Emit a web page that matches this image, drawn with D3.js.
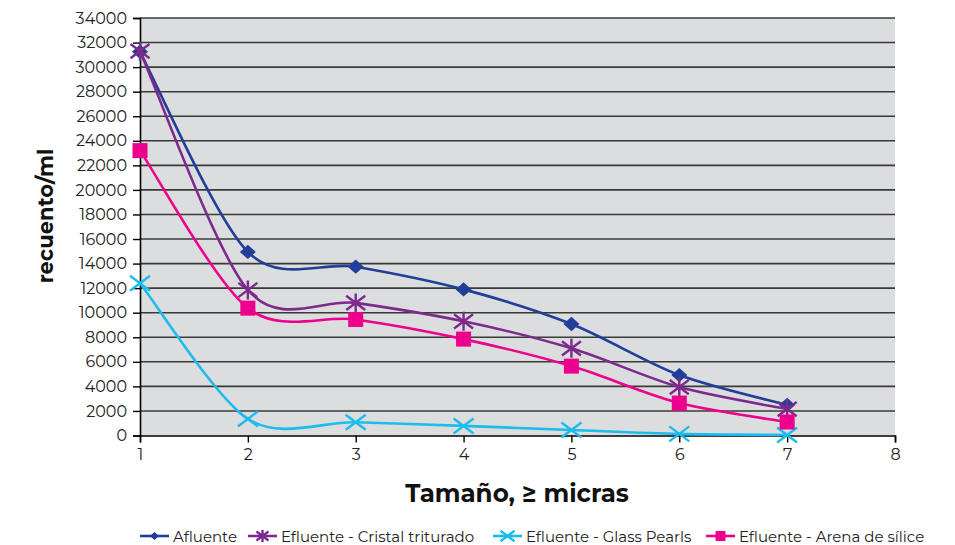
<!DOCTYPE html>
<html>
<head>
<meta charset="utf-8">
<script src="https://cdn.jsdelivr.net/npm/d3@7"></script>
<style>
  html, body { margin: 0; padding: 0; background: #fff; }
  svg { display: block; font-family: "Montserrat", "Lato", "Noto Sans", sans-serif; }
</style>
</head>
<body>
<svg id="chart" width="955" height="545"></svg>
<script>
// Particle size classes (microns) and particle counts per ml
const sizes = [1, 2, 3, 4, 5, 6, 7];
const afluente = [31250, 14950, 13750, 11900, 9080, 4920, 2480];
const cristalTriturado = [31300, 11850, 10800, 9300, 7100, 3940, 2150];
const glassPearls = [12400, 1350, 1080, 780, 450, 130, 40];
const arenaSilice = [23200, 10370, 9450, 7850, 5650, 2640, 1100];

const seriesNames = ["Afluente", "Efluente - Cristal triturado", "Efluente - Glass Pearls", "Efluente - Arena de sílice"];
const seriesColors = ["#213f99", "#7d2a8c", "#1cbdec", "#ec008c"];
const seriesMarkers = ["diamond", "star", "cross", "square"];
const xTicks = [1, 2, 3, 4, 5, 6, 7, 8];
const yTicks = d3.range(0, 34001, 2000);

const seriesValues = [afluente, cristalTriturado, glassPearls, arenaSilice];

const svg = d3.select("#chart");
const plot = { left: 140, right: 895, top: 18, bottom: 435.5 };

const x = d3.scaleLinear().domain([1, 8]).range([plot.left, plot.right]);
const y = d3.scaleLinear().domain([0, 34000]).range([plot.bottom, plot.top]);

// Plot background
svg.append("rect")
  .attr("x", plot.left).attr("y", plot.top)
  .attr("width", plot.right - plot.left).attr("height", plot.bottom - plot.top)
  .attr("fill", "#dcdddf");

// Horizontal gridlines
svg.append("g")
  .selectAll("line")
  .data(yTicks.filter(d => d > 0))
  .join("line")
  .attr("x1", plot.left).attr("x2", plot.right)
  .attr("y1", d => y(d)).attr("y2", d => y(d))
  .attr("stroke", "#3a3a3a").attr("stroke-width", 1.6);

// Y axis
const yAxis = svg.append("g")
  .attr("transform", `translate(${plot.left},0)`)
  .call(d3.axisLeft(y).tickValues(yTicks).tickSize(7).tickPadding(6).tickFormat(d3.format("d")));
yAxis.select(".domain").attr("stroke", "#000").attr("stroke-width", 1.6);
yAxis.selectAll(".tick line").attr("stroke", "#000").attr("stroke-width", 1.4);
yAxis.selectAll("text").attr("font-size", 16).attr("fill", "#222")
  .attr("font-family", "Montserrat, Lato, 'Noto Sans', sans-serif");

// X axis
const xAxis = svg.append("g")
  .attr("transform", `translate(0,${plot.bottom})`)
  .call(d3.axisBottom(x).tickValues(xTicks).tickSize(7).tickPadding(6).tickFormat(d3.format("d")));
xAxis.select(".domain").attr("stroke", "#000").attr("stroke-width", 1.6);
xAxis.selectAll(".tick line").attr("stroke", "#000").attr("stroke-width", 1.4);
xAxis.selectAll("text").attr("font-size", 16).attr("fill", "#222")
  .attr("font-family", "Montserrat, Lato, 'Noto Sans', sans-serif");

// Axis titles
svg.append("text")
  .attr("x", 517).attr("y", 502)
  .attr("text-anchor", "middle")
  .attr("font-size", 24.5).attr("font-weight", "bold").attr("fill", "#111")
  .text("Tamaño, ≥ micras");

svg.append("text")
  .attr("transform", "translate(53,216) rotate(-90)")
  .attr("text-anchor", "middle")
  .attr("font-size", 21).attr("font-weight", "bold").attr("fill", "#111")
  .text("recuento/ml");

// Spreadsheet-style smoothed line: Catmull-Rom-like Bezier arms (next - prev) * f,
// end points treated as doubled, each arm clamped to half its segment length.
function curveSpreadsheetSmooth(context) {
  const f = 0.15;
  let pts = [];
  return {
    areaStart() {}, areaEnd() {},
    lineStart() { pts = []; },
    point(px, py) { pts.push([+px, +py]); },
    lineEnd() {
      const n = pts.length;
      if (!n) return;
      context.moveTo(pts[0][0], pts[0][1]);
      const at = i => pts[Math.max(0, Math.min(n - 1, i))];
      const arm = (i, half) => {
        const a = at(i - 1), b = at(i + 1);
        let dx = (b[0] - a[0]) * f, dy = (b[1] - a[1]) * f;
        const len = Math.hypot(dx, dy);
        if (len > half && len > 0) { dx *= half / len; dy *= half / len; }
        return [dx, dy];
      };
      for (let i = 0; i < n - 1; i++) {
        const p = pts[i], q = pts[i + 1];
        const half = Math.hypot(q[0] - p[0], q[1] - p[1]) / 2;
        const a1 = arm(i, half), a2 = arm(i + 1, half);
        context.bezierCurveTo(p[0] + a1[0], p[1] + a1[1], q[0] - a2[0], q[1] - a2[1], q[0], q[1]);
      }
    }
  };
}

// Marker drawing
function drawMarker(g, type, color, cx, cy, s) {
  if (type === "diamond") {
    g.append("path")
      .attr("d", `M${cx},${cy - s * 0.9}L${cx + s},${cy}L${cx},${cy + s * 0.9}L${cx - s},${cy}Z`)
      .attr("fill", color);
  } else if (type === "square") {
    g.append("rect")
      .attr("x", cx - s).attr("y", cy - s)
      .attr("width", 2 * s).attr("height", 2 * s)
      .attr("fill", color);
  } else if (type === "cross") {
    g.append("path")
      .attr("d", `M${cx - s},${cy - s * 0.75}L${cx + s},${cy + s * 0.75}M${cx - s},${cy + s * 0.75}L${cx + s},${cy - s * 0.75}`)
      .attr("stroke", color).attr("stroke-width", 2.4).attr("fill", "none");
  } else if (type === "star") {
    g.append("path")
      .attr("d", `M${cx - s},${cy - s * 0.75}L${cx + s},${cy + s * 0.75}M${cx - s},${cy + s * 0.75}L${cx + s},${cy - s * 0.75}M${cx},${cy - s}L${cx},${cy + s}`)
      .attr("stroke", color).attr("stroke-width", 2.4).attr("fill", "none");
  }
}

const markerSize = [8, 9.5, 10, 7.5];

// Series lines with markers (smoothed)
const line = d3.line()
  .x((d, i) => x(sizes[i]))
  .y(d => y(d))
  .curve(curveSpreadsheetSmooth);

seriesValues.forEach((vals, k) => {
  const g = svg.append("g");
  g.append("path")
    .datum(vals)
    .attr("d", line)
    .attr("fill", "none")
    .attr("stroke", seriesColors[k])
    .attr("stroke-width", 2.6);
  vals.forEach((v, i) => drawMarker(g, seriesMarkers[k], seriesColors[k], x(sizes[i]), y(v), markerSize[k]));
});

// Legend
const legendX = [140, 248, 493, 706];
const legend = svg.append("g");
seriesNames.forEach((name, k) => {
  const lx = legendX[k], ly = 536;
  legend.append("line")
    .attr("x1", lx).attr("x2", lx + 29)
    .attr("y1", ly).attr("y2", ly)
    .attr("stroke", seriesColors[k]).attr("stroke-width", 2.6);
  drawMarker(legend, seriesMarkers[k], seriesColors[k], lx + 14.5, ly, [4.5, 6, 7, 5][k]);
  legend.append("text")
    .attr("x", lx + 33).attr("y", ly + 5.5)
    .attr("font-size", 15).attr("fill", "#222")
    .text(name);
});
</script>
</body>
</html>
